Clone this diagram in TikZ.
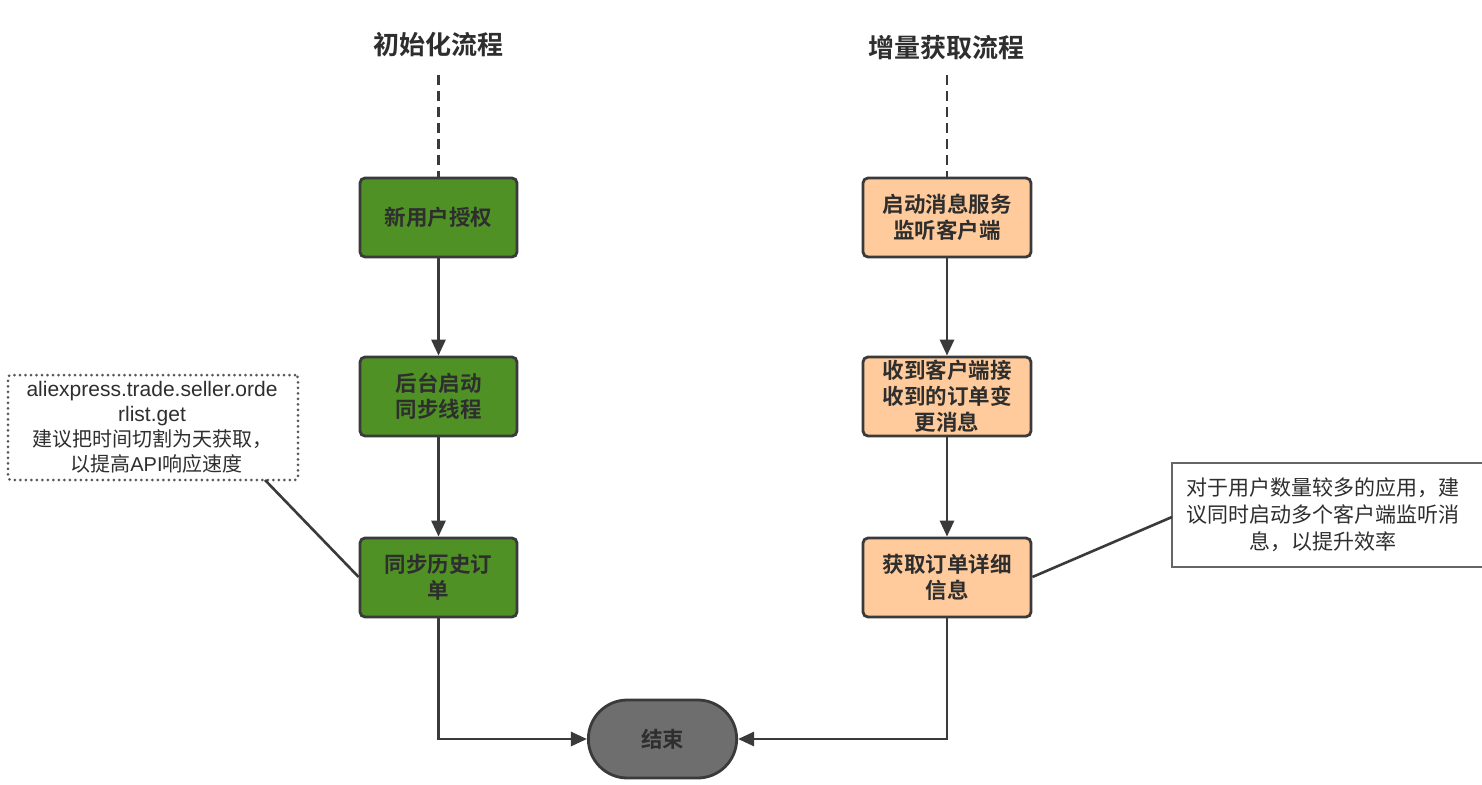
\documentclass[tikz,border=0pt]{standalone}
\usepackage{fontspec}
\setmainfont{Liberation Sans}
\newfontfamily\cjk{Noto Sans CJK SC}
\newfontfamily\cjkb{Noto Sans CJK SC Bold}
\usetikzlibrary{arrows.meta,shapes.misc}
\definecolor{boxgreen}{HTML}{4F9125}
\definecolor{boxorange}{HTML}{FFCB9C}
\definecolor{endgrey}{HTML}{6E6E6E}
\definecolor{edge}{HTML}{3A3A3A}
\definecolor{txt}{HTML}{2E2E2E}
\begin{document}
\begin{tikzpicture}[x=1pt,y=-1pt,
  stepbox/.style={draw=edge,line width=2.8pt,rounded corners=5pt,minimum width=157pt,minimum height=79pt,inner sep=0pt,align=center,text=txt,font=\cjkb\fontsize{21.5}{26}\selectfont},
  greenbox/.style={stepbox,fill=boxgreen},
  orangebox/.style={stepbox,fill=boxorange,minimum width=168pt},
  endbox/.style={draw=edge,line width=2.8pt,fill=endgrey,rounded rectangle,minimum width=155pt,minimum height=78pt,text=txt,font=\cjkb\fontsize{21.5}{26}\selectfont},
  titletext/.style={text=txt,font=\cjkb\fontsize{26}{30}\selectfont},
  flow/.style={draw=edge,line width=2.8pt,-{Triangle[length=16pt,width=14pt]}},
  notetext/.style={align=center,text=txt,inner sep=0pt},
  link/.style={draw=edge,line width=2.6pt}
]
\useasboundingbox (0,0) rectangle (1482,784);
\fill[white] (0,0) rectangle (1482,784);

% titles
\node[titletext] (t1) at (438,45) {初始化流程};
\node[titletext] (t2) at (946,48) {增量获取流程};

% left column
\node[greenbox] (a1) at (438.5,217.5) {新用户授权};
\node[greenbox] (a2) at (438.5,396.5) {后台启动\\同步线程};
\node[greenbox] (a3) at (438.5,577.5) {同步历史订\\单};

% right column
\node[orangebox] (b1) at (947,217.5) {启动消息服务\\监听客户端};
\node[orangebox] (b2) at (947,396.5) {\fontsize{21.5}{24}\selectfont 收到客户端接\\收到的订单变\\更消息};
\node[orangebox] (b3) at (947,577.5) {获取订单详细\\信息};

% end
\node[endbox] (e) at (662.5,739) {结束};

% dashed starts
\coordinate (s1) at (438.5,75);
\coordinate (s2) at (947,75);
\draw[draw=edge,line width=2.8pt,dash pattern=on 10pt off 6pt] (s1) -- (a1.north);
\draw[draw=edge,line width=2.8pt,dash pattern=on 10pt off 6pt] (s2) -- (b1.north);

% flows
\draw[flow] (a1) -- (a2);
\draw[flow] (a2) -- (a3);
\draw[flow] (b1) -- (b2);
\draw[flow] (b2) -- (b3);
\draw[flow] (a3.south) |- (e.west);
\draw[flow] (b3.south) |- (e.east);

% left note
\node[draw=edge!85,line width=3pt,dash pattern=on 0pt off 5.5pt,line cap=round,rounded corners=3pt,minimum width=290pt,minimum height=105pt,inner sep=0pt] (n1) at (153,427.5) {};
\node[notetext,font=\fontsize{21}{25}\selectfont] (n1t) at (152,427) {aliexpress.trade.seller.orde\\rlist.get\\{\cjk\fontsize{20}{25}\selectfont 建议把时间切割为天获取，}\\{\cjk\fontsize{20}{25}\selectfont\ \ 以提高}{\fontsize{20}{25}\selectfont API}{\cjk\fontsize{20}{25}\selectfont 响应速度}};
\coordinate (n1c) at (265,480);
\draw[link] (n1c) -- (a3.west |- 0,577);

% right note
\draw[draw=gray!80!black,line width=2pt,fill=white] (1172,463) -- (1495,463) -- (1495,567) -- (1172,567) -- cycle;
\node[notetext,font=\cjk\fontsize{21}{27}\selectfont,anchor=center] (n2t) at (1323,515) {对于用户数量较多的应用，建\\议同时启动多个客户端监听消\\息，以提升效率};
\coordinate (n2c) at (1172,517);
\draw[link] (n2c) -- (b3.east |- 0,577);
\end{tikzpicture}
\end{document}
